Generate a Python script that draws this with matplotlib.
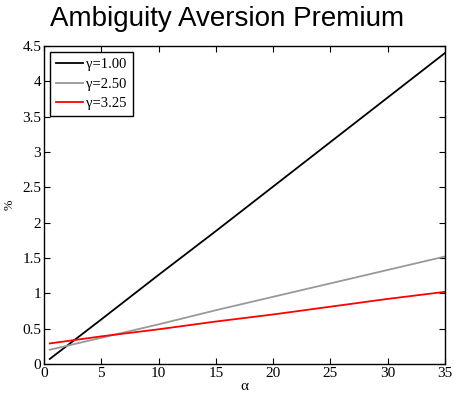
import matplotlib
matplotlib.use("Agg")
import matplotlib.pyplot as plt

alpha = [0.5, 5, 10, 15, 20, 25, 30, 35]
prem_g100 = [0.07, 0.63, 1.26, 1.88, 2.51, 3.14, 3.77, 4.40]
prem_g250 = [0.20, 0.37, 0.56, 0.76, 0.95, 1.14, 1.33, 1.52]
prem_g325 = [0.29, 0.39, 0.49, 0.60, 0.70, 0.81, 0.92, 1.02]
labels = ["γ=1.00", "γ=2.50", "γ=3.25"]
xticks = [0, 5, 10, 15, 20, 25, 30, 35]
yticks = [0, 0.5, 1, 1.5, 2, 2.5, 3, 3.5, 4, 4.5]

serif = ["Liberation Serif", "DejaVu Serif"]

fig = plt.figure(figsize=(4.54, 3.93), dpi=100)
ax = fig.add_axes([0.097, 0.074, 0.883, 0.809])
ax.plot(alpha, prem_g100, color="black", lw=1.3, label=labels[0])
ax.plot(alpha, prem_g250, color="#999999", lw=1.3, label=labels[1])
ax.plot(alpha, prem_g325, color="red", lw=1.3, label=labels[2])
ax.set_xlim(0, 35)
ax.set_ylim(0, 4.5)
ax.set_xticks(xticks)
ax.set_yticks(yticks)
ax.set_xticklabels([f"{t:g}" for t in xticks], family=serif, fontsize=11)
ax.set_yticklabels([f"{t:g}" for t in yticks], family=serif, fontsize=11)
ax.tick_params(direction="in", top=True, right=True, length=4, width=0.8, pad=2)
for s in ax.spines.values():
    s.set_linewidth(1.0)
ax.set_xlabel("α", family=serif, fontsize=11, labelpad=0)
ax.set_ylabel("%", family=serif, fontsize=9, labelpad=5)
fig.suptitle("Ambiguity Aversion Premium", fontsize=20, x=0.5, y=0.985,
             family=["Liberation Sans", "DejaVu Sans"])
leg = ax.legend(loc="upper left", prop={"family": serif, "size": 10.5}, fancybox=False,
                framealpha=1, edgecolor="black", borderaxespad=0.4, handlelength=1.9,
                labelspacing=0.45, borderpad=0.4, handletextpad=0.2)
leg.get_frame().set_linewidth(1.0)
fig.savefig("out.png", dpi=100)
